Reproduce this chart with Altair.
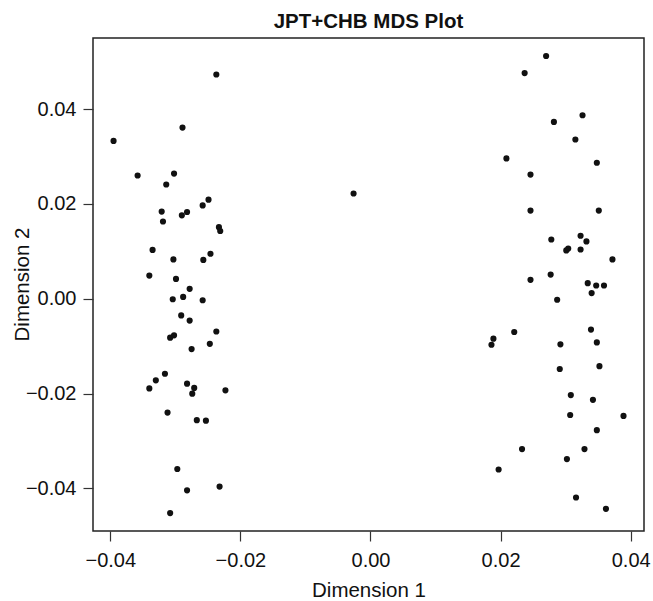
import altair as alt
import pandas as pd

# Dimension 1 (x) and Dimension 2 (y) coordinates
dim1 = [
    -0.0237, -0.0289, -0.0395, -0.0358, -0.0302, -0.0314, -0.0249, -0.0258, -0.0321, -0.0282,
    -0.0290, -0.0319, -0.0233, -0.0231, -0.0335, -0.0303, -0.0257, -0.0246, -0.0340, -0.0299,
    -0.0278, -0.0304, -0.0288, -0.0258, -0.0291, -0.0278, -0.0237, -0.0308, -0.0302, -0.0247,
    -0.0275, -0.0316, -0.0330, -0.0340, -0.0282, -0.0271, -0.0274, -0.0223, -0.0312, -0.0267,
    -0.0253, -0.0297, -0.0282, -0.0232, -0.0308,
    -0.0026,
    0.0270, 0.0237, 0.0326, 0.0282, 0.0315, 0.0209, 0.0348, 0.0246, 0.0246, 0.0351,
    0.0278, 0.0323, 0.0332, 0.0301, 0.0304, 0.0323, 0.0372, 0.0246, 0.0277, 0.0334,
    0.0347, 0.0359, 0.0340, 0.0287, 0.0221, 0.0339, 0.0189, 0.0186, 0.0292, 0.0348,
    0.0291, 0.0352, 0.0308, 0.0342, 0.0307, 0.0389, 0.0348, 0.0233, 0.0329, 0.0302,
    0.0197, 0.0316, 0.0362,
]
dim2 = [
    0.0473, 0.0361, 0.0333, 0.0260, 0.0264, 0.0241, 0.0209, 0.0197, 0.0184, 0.0183,
    0.0176, 0.0163, 0.0151, 0.0143, 0.0103, 0.0083, 0.0082, 0.0095, 0.0049, 0.0042,
    0.0021, -0.0001, 0.0004, -0.0003, -0.0035, -0.0046, -0.0069, -0.0082, -0.0077, -0.0095,
    -0.0106, -0.0158, -0.0172, -0.0189, -0.0179, -0.0188, -0.0200, -0.0193, -0.0240, -0.0256,
    -0.0257, -0.0359, -0.0404, -0.0396, -0.0452,
    0.0222,
    0.0512, 0.0476, 0.0387, 0.0373, 0.0336, 0.0296, 0.0287, 0.0262, 0.0186, 0.0186,
    0.0125, 0.0133, 0.0121, 0.0102, 0.0106, 0.0104, 0.0083, 0.0040, 0.0051, 0.0033,
    0.0028, 0.0028, 0.0012, -0.0002, -0.0070, -0.0065, -0.0084, -0.0097, -0.0096, -0.0092,
    -0.0148, -0.0142, -0.0203, -0.0213, -0.0245, -0.0247, -0.0277, -0.0317, -0.0317, -0.0338,
    -0.0360, -0.0419, -0.0443,
]
tick_values = [-0.04, -0.02, 0.0, 0.02, 0.04]

df = pd.DataFrame({"d1": dim1, "d2": dim2})

FONT = "Liberation Sans"

chart = (
    alt.Chart(df)
    .mark_circle(size=38, color="#111111", opacity=1)
    .encode(
        x=alt.X(
            "d1:Q",
            scale=alt.Scale(domain=[-0.04266, 0.04205], nice=False, zero=False),
            axis=alt.Axis(
                title="Dimension 1",
                values=tick_values,
                format=".2f",
                grid=False,
                domain=False,
                tickSize=10,
                tickColor="#333333",
                tickWidth=1.2,
                labelFont=FONT,
                labelFontSize=20,
                labelColor="#111111",
                labelPadding=9,
                labelFlush=False,
                labelExpr="replace(datum.label, '-', '\u2212')",
                titleFont=FONT,
                titleFontSize=20.5,
                titleFontWeight="normal",
                titleColor="#111111",
                titleBaseline="alphabetic",
                titleY=65,
            ),
        ),
        y=alt.Y(
            "d2:Q",
            scale=alt.Scale(domain=[-0.04897, 0.0550], nice=False, zero=False),
            axis=alt.Axis(
                title="Dimension 2",
                values=tick_values,
                format=".2f",
                grid=False,
                domain=False,
                tickSize=10,
                tickColor="#333333",
                tickWidth=1.2,
                labelFont=FONT,
                labelFontSize=20,
                labelColor="#111111",
                labelPadding=7,
                labelFlush=False,
                labelExpr="replace(datum.label, '-', '\u2212')",
                titleFont=FONT,
                titleFontSize=20.5,
                titleFontWeight="normal",
                titleColor="#111111",
                titleAngle=-90,
                titleAlign="center",
                titleBaseline="alphabetic",
                titleX=-65,
                titleY=246,
            ),
        ),
    )
    .properties(
        width=551,
        height=493,
        title=alt.TitleParams(
            "JPT+CHB MDS Plot",
            font=FONT,
            fontSize=20.5,
            fontWeight="bold",
            color="#111111",
            anchor="middle",
            baseline="alphabetic",
            offset=12,
            dy=22,
        ),
        padding={"left": 93, "top": 38, "right": 9, "bottom": 70},
        autosize=alt.AutoSizeParams(type="none"),
    )
    .configure(background="white")
    .configure_view(stroke="#222222", strokeWidth=1.5)
)

chart.save("out.html", embed_options={"renderer": "svg", "actions": False})
